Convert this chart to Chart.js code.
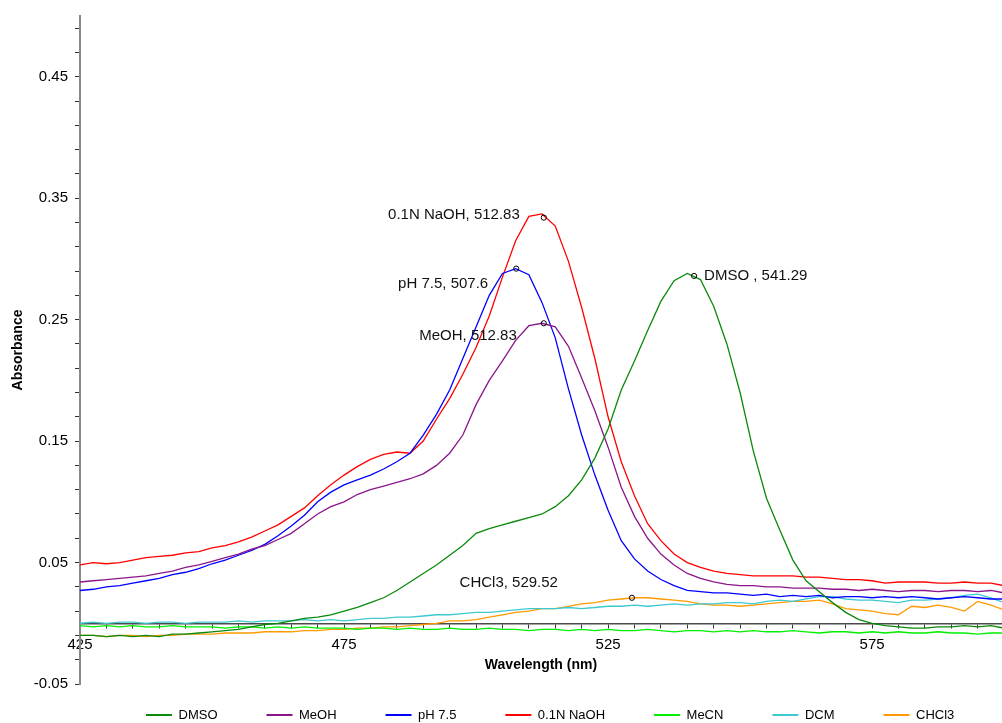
<!DOCTYPE html>
<html>
<head>
<meta charset="utf-8">
<script src="https://cdn.jsdelivr.net/npm/chart.js@4.4.1/dist/chart.umd.min.js"></script>
<style>
html,body{margin:0;padding:0;background:#fff;}
canvas{display:block;}
</style>
</head>
<body>
<canvas id="c" width="1002" height="723"></canvas>
<script>
// ---------- DATA ----------
const wavelengths = [425,427.5,430,432.5,435,437.5,440,442.5,445,447.5,450,452.5,455,457.5,460,462.5,465,467.5,470,472.5,475,477.5,480,482.5,485,487.5,490,492.5,495,497.5,500,502.5,505,507.5,510,512.5,515,517.5,520,522.5,525,527.5,530,532.5,535,537.5,540,542.5,545,547.5,550,552.5,555,557.5,560,562.5,565,567.5,570,572.5,575,577.5,580,582.5,585,587.5,590,592.5,595,597.5,600];

const dmso = [-0.010,-0.010,-0.011,-0.010,-0.011,-0.010,-0.011,-0.009,-0.009,-0.008,
 -0.007,-0.006,-0.005,-0.003,-0.001,0.000,0.002,0.004,0.005,0.007,
 0.010,0.013,0.017,0.021,0.027,0.034,0.041,0.048,0.056,0.064,
 0.074,0.078,0.081,0.084,0.087,0.090,0.096,0.105,0.118,0.136,
 0.160,0.192,0.216,0.241,0.265,0.282,0.288,0.283,0.261,0.230,
 0.190,0.142,0.103,0.077,0.052,0.035,0.026,0.017,0.009,0.003,
 0.000,-0.002,-0.003,-0.004,-0.004,-0.003,-0.003,-0.002,-0.003,-0.002,-0.004];

const meoh = [0.034,0.035,0.036,0.037,0.038,0.039,0.041,0.043,0.046,0.048,
 0.051,0.054,0.057,0.061,0.064,0.069,0.074,0.082,0.090,0.096,
 0.100,0.106,0.110,0.113,0.116,0.119,0.123,0.130,0.140,0.155,
 0.180,0.200,0.216,0.233,0.245,0.247,0.244,0.228,0.202,0.175,
 0.145,0.112,0.088,0.070,0.057,0.048,0.041,0.037,0.034,0.032,
 0.031,0.031,0.030,0.030,0.029,0.029,0.029,0.028,0.028,0.027,
 0.028,0.027,0.026,0.027,0.027,0.026,0.027,0.027,0.026,0.027,0.025];

const ph75 = [0.027,0.028,0.030,0.031,0.033,0.035,0.037,0.040,0.042,0.045,
 0.049,0.052,0.056,0.060,0.065,0.072,0.080,0.089,0.100,0.108,
 0.114,0.118,0.122,0.127,0.133,0.140,0.155,0.172,0.192,0.218,
 0.244,0.270,0.288,0.292,0.287,0.264,0.235,0.193,0.155,0.122,
 0.093,0.068,0.053,0.043,0.036,0.031,0.027,0.026,0.025,0.025,
 0.024,0.023,0.024,0.022,0.023,0.022,0.023,0.021,0.022,0.022,
 0.021,0.022,0.021,0.022,0.021,0.020,0.021,0.022,0.021,0.020,0.020];

const naoh = [0.048,0.050,0.049,0.050,0.052,0.054,0.055,0.056,0.058,0.059,
 0.062,0.064,0.067,0.071,0.076,0.081,0.088,0.095,0.105,0.114,
 0.122,0.129,0.135,0.139,0.141,0.140,0.150,0.168,0.185,0.205,
 0.227,0.253,0.285,0.315,0.335,0.337,0.327,0.298,0.260,0.218,
 0.170,0.133,0.105,0.082,0.068,0.057,0.050,0.046,0.043,0.041,
 0.040,0.039,0.039,0.039,0.039,0.038,0.038,0.037,0.036,0.036,
 0.035,0.033,0.034,0.034,0.034,0.033,0.033,0.034,0.033,0.033,0.031];

const mecn = [-0.002,-0.003,-0.002,-0.003,-0.002,-0.003,-0.003,-0.002,-0.003,-0.003,
 -0.003,-0.004,-0.003,-0.003,-0.004,-0.003,-0.004,-0.003,-0.004,-0.004,
 -0.004,-0.005,-0.004,-0.004,-0.005,-0.004,-0.005,-0.005,-0.004,-0.005,
 -0.005,-0.004,-0.005,-0.005,-0.006,-0.005,-0.005,-0.006,-0.005,-0.006,
 -0.005,-0.006,-0.006,-0.005,-0.006,-0.007,-0.006,-0.006,-0.007,-0.006,
 -0.007,-0.006,-0.007,-0.007,-0.006,-0.007,-0.008,-0.007,-0.007,-0.008,
 -0.007,-0.008,-0.007,-0.008,-0.008,-0.007,-0.008,-0.008,-0.009,-0.008,-0.008];

const dcm = [0.000,0.001,0.000,0.001,0.001,0.000,0.001,0.001,0.000,0.001,
 0.001,0.001,0.002,0.001,0.002,0.002,0.002,0.003,0.002,0.003,
 0.002,0.003,0.004,0.004,0.005,0.005,0.006,0.007,0.007,0.008,
 0.009,0.009,0.010,0.011,0.012,0.012,0.012,0.013,0.012,0.013,
 0.014,0.014,0.015,0.014,0.015,0.016,0.015,0.016,0.016,0.017,
 0.017,0.016,0.018,0.019,0.018,0.020,0.022,0.022,0.020,0.019,
 0.019,0.018,0.017,0.019,0.019,0.020,0.021,0.023,0.024,0.021,0.017];

const chcl3 = [-0.010,-0.010,-0.011,-0.010,-0.010,-0.011,-0.010,-0.010,-0.009,-0.009,
 -0.009,-0.008,-0.008,-0.008,-0.007,-0.007,-0.007,-0.006,-0.006,-0.005,
 -0.005,-0.004,-0.004,-0.003,-0.003,-0.002,-0.001,0.000,0.002,0.002,
 0.003,0.005,0.007,0.009,0.010,0.012,0.012,0.014,0.016,0.017,
 0.019,0.020,0.021,0.021,0.020,0.019,0.018,0.016,0.015,0.015,
 0.014,0.015,0.016,0.017,0.018,0.018,0.019,0.016,0.012,0.011,
 0.010,0.008,0.007,0.014,0.013,0.015,0.013,0.010,0.018,0.015,0.011];

const seriesNames = ['DMSO','MeOH','pH 7.5','0.1N NaOH','MeCN','DCM','CHCl3'];

const peakLabels = ['0.1N NaOH, 512.83','pH 7.5, 507.6','MeOH, 512.83','DMSO , 541.29','CHCl3, 529.52'];
const peakX = [512.83, 507.6, 512.83, 541.29, 529.52];
const peakY = [0.334, 0.292, 0.247, 0.286, 0.021];

const xTickLabels = [425, 475, 525, 575];
const yTickLabels = [-0.05, 0.05, 0.15, 0.25, 0.35, 0.45];

// ---------- STYLE ----------
const FONT = "'Liberation Sans', Arial, Helvetica, sans-serif";
const seriesValues = [dmso, meoh, ph75, naoh, mecn, dcm, chcl3];
const seriesColors = ['#0a8a0a','#8b168b','#0000ff','#ff0000','#00f000','#3ec8d2','#ff9a00'];
const labelOffsets = [
  {align:'right', dx:-24, dy:-3},
  {align:'right', dx:-28, dy:15},
  {align:'right', dx:-27, dy:13},
  {align:'left',  dx:10,  dy:0},
  {align:'right', dx:-74, dy:-15}
];

function stepTicks(a, b, s) {
  const r = [];
  for (let v = a; v <= b + 1e-9; v += s) r.push(Math.round(v * 1000) / 1000);
  return r;
}
const xTicks = stepTicks(425, 595, 5);
const yTicks = stepTicks(-0.05, 0.49, 0.02);

Chart.defaults.font.family = FONT;
Chart.defaults.color = '#000';

const datasets = seriesNames.map((name, i) => ({
  label: name,
  data: wavelengths.map((w, j) => ({x: w, y: seriesValues[i][j]})),
  borderColor: seriesColors[i],
  backgroundColor: seriesColors[i],
  borderWidth: 1.3,
  pointRadius: 0,
  pointHoverRadius: 0,
  tension: 0,
  fill: false
}));

const peakPlugin = {
  id: 'peakLabels',
  afterLayout(chart) {
    const lg = chart.legend;
    if (!lg) return;
    const pad = lg.options.labels.padding;
    lg.top = 715 - 6.5 - pad;
    lg.bottom = chart.height;
    lg.height = lg.bottom - lg.top;
    if (lg.lineWidths && lg.lineWidths.length) {
      const curX = (lg.left + pad + lg.right - lg.lineWidths[0]) / 2;
      const dx = 146 - curX;
      lg.left += dx; lg.right += dx;
    }
  },
  afterDatasetsDraw(chart) {
    const {ctx} = chart;
    const xs = chart.scales.x, ys = chart.scales.y;
    ctx.save();
    // peak markers
    ctx.strokeStyle = '#000';
    ctx.lineWidth = 1;
    peakX.forEach((v, i) => {
      const px = xs.getPixelForValue(v);
      const py = ys.getPixelForValue(peakY[i]);
      ctx.beginPath();
      ctx.arc(px, py, 2.6, 0, Math.PI * 2);
      ctx.stroke();
    });
    // peak labels
    ctx.font = '15px ' + FONT;
    ctx.fillStyle = '#111';
    ctx.textBaseline = 'middle';
    peakLabels.forEach((t, i) => {
      const px = xs.getPixelForValue(peakX[i]);
      const py = ys.getPixelForValue(peakY[i]);
      const o = labelOffsets[i];
      ctx.textAlign = o.align;
      ctx.fillText(t, px + o.dx, py + o.dy);
    });
    ctx.restore();
  }
};

new Chart(document.getElementById('c'), {
  type: 'line',
  data: {datasets: datasets},
  plugins: [peakPlugin],
  options: {
    responsive: false,
    animation: false,
    devicePixelRatio: 1,
    events: [],
    layout: {padding: {top: 13, left: 0, right: 0, bottom: 0}},
    plugins: {
      tooltip: {enabled: false},
      legend: {
        display: true,
        position: 'bottom',
        fullSize: false,
        maxHeight: 39,
        labels: {
          boxWidth: 26,
          boxHeight: 2,
          padding: 49,
          font: {size: 13},
          color: '#000',
          generateLabels(chart) {
            return Chart.defaults.plugins.legend.labels.generateLabels(chart)
              .map(it => Object.assign(it, {lineWidth: 0}));
          }
        }
      }
    },
    scales: {
      x: {
        type: 'linear',
        min: 425,
        max: 599.6,
        position: {y: 0},
        border: {display: true, color: '#4a4a4a', width: 1.5},
        grid: {display: true, drawOnChartArea: false, drawTicks: true, tickLength: 4, tickColor: '#333', tickWidth: 1},
        ticks: {
          autoSkip: false, maxRotation: 0, padding: 9,
          font: {size: 15}, color: '#000',
          callback: v => xTickLabels.includes(v) ? String(v) : ''
        },
        afterBuildTicks: s => { s.ticks = xTicks.map(v => ({value: v})); },
        title: {display: true, text: 'Wavelength (nm)', font: {size: 14, weight: 'bold'}, color: '#000', padding: {top: 0, bottom: 0}},
        afterFit: s => { s.height = 50; s.bottom = s.top + 50; }
      },
      y: {
        type: 'linear',
        min: -0.05,
        max: 0.5,
        position: 'left',
        border: {display: true, color: '#8a8a8a', width: 2},
        grid: {display: true, drawOnChartArea: false, drawTicks: true, tickLength: 5, tickColor: '#333', tickWidth: 1},
        ticks: {
          autoSkip: false, padding: 7,
          font: {size: 15}, color: '#000',
          callback: v => yTickLabels.some(t => Math.abs(t - v) < 1e-6) ? v.toFixed(2) : ''
        },
        afterBuildTicks: s => { s.ticks = yTicks.map(v => ({value: v})); },
        title: {display: true, text: 'Absorbance', font: {size: 14, weight: 'bold'}, color: '#000', padding: {top: 10, bottom: 0}},
        afterFit: s => { s.width = 80; }
      }
    }
  }
});
</script>
</body>
</html>
